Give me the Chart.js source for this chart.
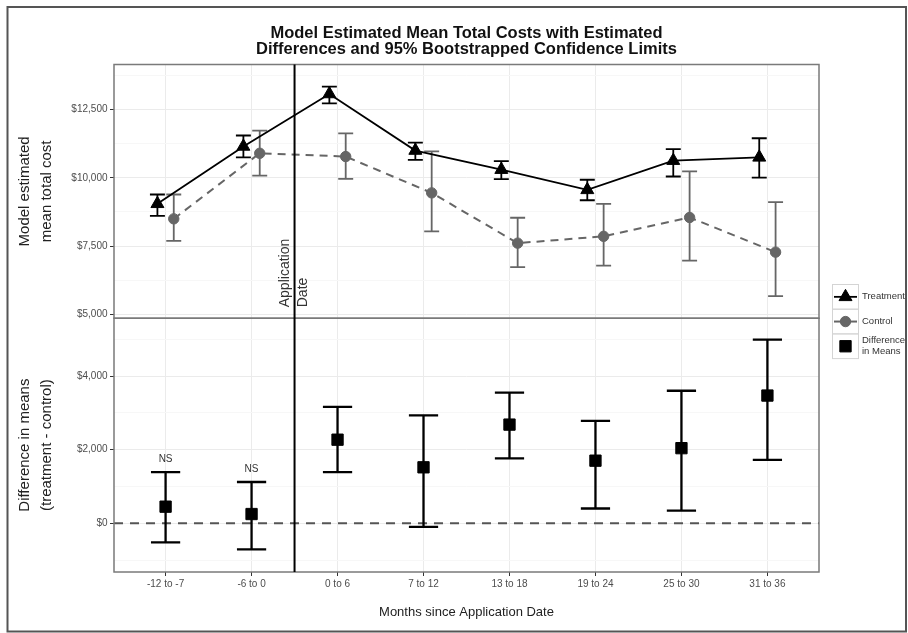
<!DOCTYPE html>
<html>
<head>
<meta charset="utf-8">
<title>Model Estimated Mean Total Costs</title>
<script src="https://cdn.jsdelivr.net/npm/chart.js@4.4.1/dist/chart.umd.min.js"></script>
<style>
  html, body { margin: 0; padding: 0; background: #fff; }
  #wrap { width: 908px; height: 633px; position: relative; }
</style>
</head>
<body>
<div id="wrap"><canvas id="c" width="908" height="633"></canvas></div>
<script>
// Follow-up windows (months relative to the application date)
const categories = ['-12 to -7', '-6 to 0', '0 to 6', '7 to 12', '13 to 18', '19 to 24', '25 to 30', '31 to 36'];

// Model estimated mean total cost, treatment group, with 95% bootstrapped limits
const treatmentMean = [9050, 11150, 13070, 11000, 10300, 9560, 10630, 10750];
const treatmentLow  = [8610, 10750, 12730, 10660, 9950, 9180, 10050, 10010];
const treatmentHigh = [9390, 11550, 13340, 11290, 10610, 9930, 11050, 11450];

// Control group
const controlMean = [8500, 10900, 10780, 9450, 7610, 7860, 8550, 7280];
const controlLow  = [7690, 10080, 9960, 8040, 6730, 6790, 6970, 5670];
const controlHigh = [9390, 11730, 11630, 10970, 8540, 9050, 10240, 9110];

// Difference in means (treatment - control)
const diffMean = [450, 250, 2270, 1520, 2680, 1700, 2040, 3470];
const diffLow  = [-520, -710, 1390, -100, 1760, 400, 340, 1720];
const diffHigh = [1390, 1120, 3160, 2930, 3550, 2780, 3600, 4990];
const sigLabels = ['NS', 'NS', '', '', '', '', '', ''];

// Axis ticks
const topMajorTicks = [5000, 7500, 10000, 12500];
const topMinorTicks = [6250, 8750, 11250, 13750];
const bottomMajorTicks = [0, 2000, 4000];
const bottomMinorTicks = [-1000, 1000, 3000, 5000];

// Reference positions
const applicationDate = 1.5;   // between "-6 to 0" and "0 to 6"
const zeroLine = 0;

// Layout settings
const X_MIN = -0.6, X_MAX = 7.6;
const DODGE = 0.095;
const CAP_TOP = 0.087, CAP_BOTTOM = 0.17;
const FONT = "'Liberation Sans', Arial, Helvetica, sans-serif";
const CONTROL_GREY = '#666666';

Chart.defaults.font.family = FONT;
Chart.defaults.color = '#333';

const toPoints = (arr, shift) => arr.map((v, i) => ({ x: i + shift, y: v }));
const fmtDollar = v => '$' + Number(v).toLocaleString('en-US');

function tickBuilder(major, minor) {
  return scale => {
    scale.ticks = major.concat(minor).sort((a, b) => a - b).map(v => ({ value: v }));
  };
}

// Error bars drawn just before each dataset's own markers
const errorBarPlugin = {
  id: 'errorBars',
  beforeDatasetDraw(chart, args) {
    const ds = chart.data.datasets[args.index];
    const eb = ds.errorBars;
    if (!eb) return;
    const xs = chart.scales.x, ys = chart.scales[ds.yAxisID];
    const ctx = chart.ctx;
    ctx.save();
    ctx.strokeStyle = eb.color;
    ctx.lineWidth = eb.width;
    ctx.lineCap = 'butt';
    ds.data.forEach((p, i) => {
      const x = xs.getPixelForValue(p.x);
      const x0 = xs.getPixelForValue(p.x - eb.cap);
      const x1 = xs.getPixelForValue(p.x + eb.cap);
      const yl = ys.getPixelForValue(eb.low[i]);
      const yh = ys.getPixelForValue(eb.high[i]);
      ctx.beginPath();
      ctx.moveTo(x, yl); ctx.lineTo(x, yh);
      ctx.moveTo(x0, yl); ctx.lineTo(x1, yl);
      ctx.moveTo(x0, yh); ctx.lineTo(x1, yh);
      ctx.stroke();
    });
    ctx.restore();
  }
};

// Panel frames, application-date marker, significance labels, legend, outer frame
const decorPlugin = {
  id: 'decor',
  afterDatasetsDraw(chart) {
    const ctx = chart.ctx;
    const xs = chart.scales.x, yt = chart.scales.yTop, yb = chart.scales.yBot;
    const ca = chart.chartArea;

    // panel borders
    ctx.save();
    ctx.strokeStyle = '#7a7a7a';
    ctx.lineWidth = 1.5;
    ctx.strokeRect(ca.left, yt.top, ca.right - ca.left, yt.bottom - yt.top);
    ctx.strokeRect(ca.left, yb.top, ca.right - ca.left, yb.bottom - yb.top);
    ctx.restore();

    // application date line through both panels
    const ax = xs.getPixelForValue(applicationDate);
    ctx.save();
    ctx.strokeStyle = '#000';
    ctx.lineWidth = 2;
    ctx.beginPath();
    ctx.moveTo(ax, ca.top);
    ctx.lineTo(ax, ca.bottom);
    ctx.stroke();

    // rotated label beside the line
    ctx.translate(ax, yt.bottom - 11);
    ctx.rotate(-Math.PI / 2);
    ctx.fillStyle = '#333';
    ctx.font = '14px ' + FONT;
    ctx.textAlign = 'left';
    ctx.textBaseline = 'middle';
    ctx.fillText('Application', 0, -9);
    ctx.fillText('Date', 0, 9);
    ctx.restore();

    // NS labels above the difference intervals
    ctx.save();
    ctx.fillStyle = '#333';
    ctx.font = '10px ' + FONT;
    ctx.textAlign = 'center';
    ctx.textBaseline = 'middle';
    sigLabels.forEach((t, i) => {
      if (!t) return;
      ctx.fillText(t, xs.getPixelForValue(i), yb.getPixelForValue(diffHigh[i]) - 13);
    });
    ctx.restore();
  },
  afterDraw(chart) {
    const ctx = chart.ctx;
    const H = Chart.helpers;
    // legend keys
    const keyX = 832, keyW = 26, keyH = 24.7;
    let keyY = 284;
    chart.data.datasets.forEach(ds => {
      if (!ds.legendText) return;
      ctx.save();
      ctx.strokeStyle = '#d4d4d4';
      ctx.lineWidth = 1;
      ctx.strokeRect(keyX + 0.5, keyY + 0.5, keyW, keyH);
      const cx = keyX + keyW / 2 + 0.5, cy = keyY + keyH / 2 + 0.5;
      if (ds.showLine) {
        ctx.strokeStyle = ds.borderColor;
        ctx.lineWidth = ds.borderWidth;
        ctx.beginPath();
        ctx.moveTo(keyX + 2, cy);
        ctx.lineTo(keyX + keyW - 1, cy);
        ctx.stroke();
      }
      ctx.fillStyle = ds.pointBackgroundColor;
      ctx.strokeStyle = ds.pointBorderColor;
      ctx.lineWidth = ds.pointBorderWidth;
      H.drawPoint(ctx, { pointStyle: ds.pointStyle, radius: ds.pointRadius, rotation: 0, borderWidth: ds.pointBorderWidth }, cx, cy);
      ctx.fillStyle = '#333';
      ctx.font = '9.5px ' + FONT;
      ctx.textAlign = 'left';
      ctx.textBaseline = 'middle';
      const lines = ds.legendText;
      const lh = 11;
      lines.forEach((t, j) => {
        ctx.fillText(t, keyX + keyW + 4, cy + (j - (lines.length - 1) / 2) * lh);
      });
      ctx.restore();
      keyY += keyH;
    });

    // outer frame
    ctx.save();
    ctx.strokeStyle = '#555';
    ctx.lineWidth = 2;
    ctx.strokeRect(7.5, 7, 898.5, 624.5);
    ctx.restore();
  }
};

const gridColor = (major) => ctx => (ctx.tick && major.includes(ctx.tick.value)) ? '#ebebeb' : '#f7f7f7';
const tickMarkColor = (major) => ctx => (ctx.tick && major.includes(ctx.tick.value)) ? '#333' : 'rgba(0,0,0,0)';

new Chart(document.getElementById('c'), {
  type: 'scatter',
  data: {
    datasets: [
      {
        label: 'Treatment',
        legendText: ['Treatment'],
        yAxisID: 'yTop',
        data: toPoints(treatmentMean, -DODGE),
        showLine: true,
        borderColor: '#000',
        borderWidth: 1.8,
        pointStyle: 'triangle',
        pointRadius: 7.5,
        pointBackgroundColor: '#000',
        pointBorderColor: '#000',
        pointBorderWidth: 1,
        errorBars: { low: treatmentLow, high: treatmentHigh, cap: CAP_TOP, color: '#000', width: 1.8 }
      },
      {
        label: 'Control',
        legendText: ['Control'],
        yAxisID: 'yTop',
        data: toPoints(controlMean, DODGE),
        showLine: true,
        borderColor: CONTROL_GREY,
        borderWidth: 2,
        borderDash: [8, 6],
        pointStyle: 'circle',
        pointRadius: 5.2,
        pointBackgroundColor: CONTROL_GREY,
        pointBorderColor: CONTROL_GREY,
        pointBorderWidth: 1,
        errorBars: { low: controlLow, high: controlHigh, cap: CAP_TOP, color: CONTROL_GREY, width: 1.8 }
      },
      {
        label: 'Difference in Means',
        legendText: ['Difference', 'in Means'],
        yAxisID: 'yBot',
        data: toPoints(diffMean, 0),
        showLine: false,
        borderColor: '#000',
        borderWidth: 0,
        pointStyle: 'rect',
        pointRadius: 8,
        pointBackgroundColor: '#000',
        pointBorderColor: '#000',
        pointBorderWidth: 1,
        errorBars: { low: diffLow, high: diffHigh, cap: CAP_BOTTOM, color: '#000', width: 2.3 }
      },
      {
        label: 'zero',
        yAxisID: 'yBot',
        data: [{ x: X_MIN, y: zeroLine }, { x: X_MAX, y: zeroLine }],
        showLine: true,
        borderColor: '#555',
        borderWidth: 2,
        borderDash: [9, 7],
        pointRadius: 0,
        pointHoverRadius: 0
      }
    ]
  },
  options: {
    responsive: false,
    animation: false,
    devicePixelRatio: 1,
    events: [],
    layout: { padding: { left: 0, right: 89, top: 0, bottom: 0 } },
    plugins: {
      legend: { display: false },
      tooltip: { enabled: false },
      title: {
        display: true,
        fullSize: false,
        text: ['Model Estimated Mean Total Costs with Estimated', 'Differences and 95% Bootstrapped Confidence Limits'],
        font: { size: 16.5, weight: 'bold', lineHeight: 1 },
        color: '#111',
        padding: { top: 25, bottom: 6.5 }
      }
    },
    scales: {
      x: {
        type: 'linear',
        position: 'bottom',
        min: X_MIN,
        max: X_MAX,
        afterBuildTicks: s => { s.ticks = categories.map((_, i) => ({ value: i })); },
        afterFit: s => { s.height = 61; },
        ticks: {
          callback: v => categories[v] ?? '',
          color: '#4d4d4d',
          font: { size: 10 },
          padding: 2,
          autoSkip: false,
          maxRotation: 0
        },
        grid: { color: '#ebebeb', tickColor: '#333', tickLength: 4, lineWidth: 1 },
        border: { display: false },
        title: {
          display: true,
          text: 'Months since Application Date',
          font: { size: 13 },
          color: '#222',
          padding: { top: 0, bottom: 13 }
        }
      },
      yBot: {
        type: 'linear',
        position: 'left',
        stack: 'panels',
        stackWeight: 1,
        min: -1325,
        max: 5570,
        afterBuildTicks: tickBuilder(bottomMajorTicks, bottomMinorTicks),
        afterFit: s => { s.width = 114; },
        ticks: {
          callback: v => bottomMajorTicks.includes(v) ? fmtDollar(v) : '',
          color: '#4d4d4d',
          font: { size: 10 },
          padding: 2.5,
          autoSkip: false
        },
        grid: { color: gridColor(bottomMajorTicks), tickColor: tickMarkColor(bottomMajorTicks), tickLength: 4 },
        border: { display: false },
        title: {
          display: true,
          text: ['Difference in means', '(treatment - control)'],
          font: { size: 15, lineHeight: 1.45 },
          color: '#222',
          padding: { top: 14, bottom: 0 }
        }
      },
      yTop: {
        type: 'linear',
        position: 'left',
        stack: 'panels',
        stackWeight: 1,
        min: 4860,
        max: 14150,
        afterBuildTicks: tickBuilder(topMajorTicks, topMinorTicks),
        afterFit: s => { s.width = 114; },
        ticks: {
          callback: v => topMajorTicks.includes(v) ? fmtDollar(v) : '',
          color: '#4d4d4d',
          font: { size: 10 },
          padding: 2.5,
          autoSkip: false
        },
        grid: { color: gridColor(topMajorTicks), tickColor: tickMarkColor(topMajorTicks), tickLength: 4 },
        border: { display: false },
        title: {
          display: true,
          text: ['Model estimated', 'mean total cost'],
          font: { size: 15, lineHeight: 1.45 },
          color: '#222',
          padding: { top: 14, bottom: 0 }
        }
      }
    }
  },
  plugins: [errorBarPlugin, decorPlugin]
});
</script>
</body>
</html>
